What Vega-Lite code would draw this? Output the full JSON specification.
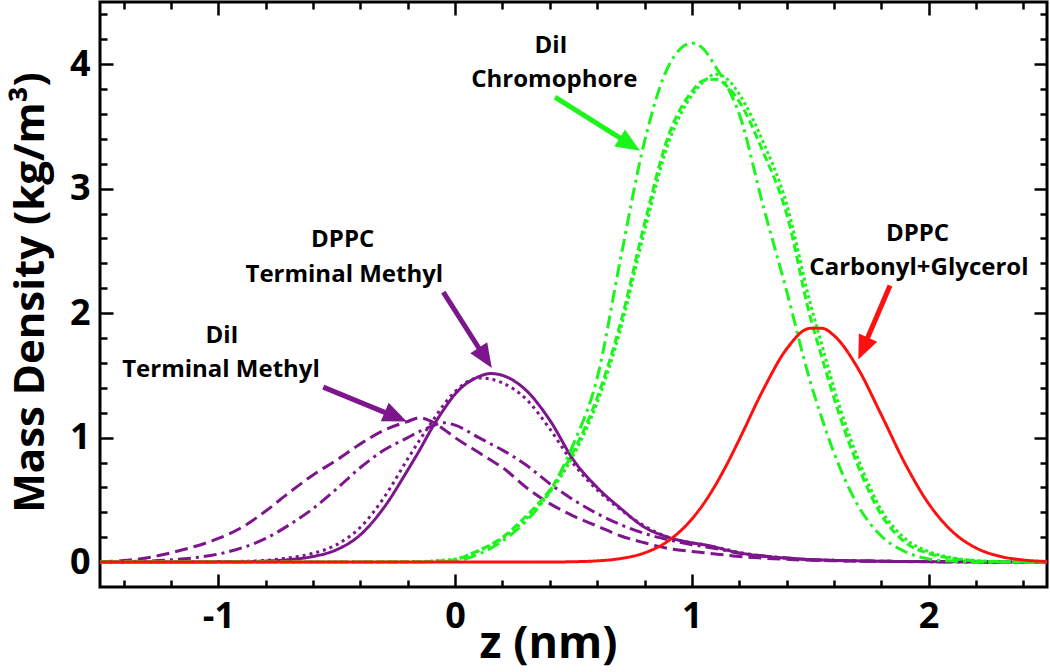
{
  "$schema": "https://vega.github.io/schema/vega-lite/v6.json",
  "width": 947,
  "height": 585,
  "autosize": {"type": "none"},
  "padding": {"left": 100, "top": 2, "right": 3, "bottom": 85},
  "background": "white",
  "config": {
    "view": {"stroke": "black", "strokeWidth": 3},
    "font": "Open Sans",
    "axis": {
      "domain": false,
      "grid": false,
      "tickColor": "black",
      "tickWidth": 2.5,
      "labelFont": "Open Sans",
      "labelFontWeight": "bold",
      "labelFontSize": 36,
      "labelColor": "black",
      "labelOverlap": false,
      "labelFlush": false,
      "labelBound": false,
      "titleFont": "Open Sans",
      "titleFontWeight": "bold",
      "titleColor": "black"
    }
  },
  "datasets": {
    "profiles": [
      {"z": -1.5, "dppc_cg": 0, "dii_chr_a": 0, "dii_chr_b": 0, "dii_chr_c": 0, "dppc_tm_a": 0, "dppc_tm_b": 0, "dii_tm_a": 0.002, "dii_tm_b": 0.004},
      {"z": -1.4, "dppc_cg": 0, "dii_chr_a": 0, "dii_chr_b": 0, "dii_chr_c": 0, "dppc_tm_a": 0, "dppc_tm_b": 0, "dii_tm_a": 0.004, "dii_tm_b": 0.012},
      {"z": -1.3, "dppc_cg": 0, "dii_chr_a": 0, "dii_chr_b": 0, "dii_chr_c": 0, "dppc_tm_a": 0, "dppc_tm_b": 0.001, "dii_tm_a": 0.008, "dii_tm_b": 0.035},
      {"z": -1.2, "dppc_cg": 0, "dii_chr_a": 0, "dii_chr_b": 0, "dii_chr_c": 0, "dppc_tm_a": 0.001, "dppc_tm_b": 0.001, "dii_tm_a": 0.018, "dii_tm_b": 0.075},
      {"z": -1.1, "dppc_cg": 0, "dii_chr_a": 0, "dii_chr_b": 0, "dii_chr_c": 0, "dppc_tm_a": 0.001, "dppc_tm_b": 0.002, "dii_tm_a": 0.035, "dii_tm_b": 0.125},
      {"z": -1.0, "dppc_cg": 0, "dii_chr_a": 0, "dii_chr_b": 0, "dii_chr_c": 0, "dppc_tm_a": 0.002, "dppc_tm_b": 0.003, "dii_tm_a": 0.065, "dii_tm_b": 0.19},
      {"z": -0.9, "dppc_cg": 0, "dii_chr_a": 0, "dii_chr_b": 0, "dii_chr_c": 0, "dppc_tm_a": 0.003, "dppc_tm_b": 0.006, "dii_tm_a": 0.115, "dii_tm_b": 0.28},
      {"z": -0.8, "dppc_cg": 0, "dii_chr_a": 0, "dii_chr_b": 0, "dii_chr_c": 0, "dppc_tm_a": 0.008, "dppc_tm_b": 0.014, "dii_tm_a": 0.19, "dii_tm_b": 0.41},
      {"z": -0.7, "dppc_cg": 0, "dii_chr_a": 0, "dii_chr_b": 0, "dii_chr_c": 0, "dppc_tm_a": 0.02, "dppc_tm_b": 0.035, "dii_tm_a": 0.3, "dii_tm_b": 0.56},
      {"z": -0.6, "dppc_cg": 0, "dii_chr_a": 0, "dii_chr_b": 0, "dii_chr_c": 0, "dppc_tm_a": 0.045, "dppc_tm_b": 0.07, "dii_tm_a": 0.43, "dii_tm_b": 0.7},
      {"z": -0.5, "dppc_cg": 0, "dii_chr_a": 0, "dii_chr_b": 0, "dii_chr_c": 0, "dppc_tm_a": 0.1, "dppc_tm_b": 0.14, "dii_tm_a": 0.59, "dii_tm_b": 0.82},
      {"z": -0.4, "dppc_cg": 0, "dii_chr_a": 0, "dii_chr_b": 0, "dii_chr_c": 0.001, "dppc_tm_a": 0.22, "dppc_tm_b": 0.28, "dii_tm_a": 0.76, "dii_tm_b": 0.95},
      {"z": -0.3, "dppc_cg": 0, "dii_chr_a": 0, "dii_chr_b": 0.001, "dii_chr_c": 0.002, "dppc_tm_a": 0.44, "dppc_tm_b": 0.52, "dii_tm_a": 0.9, "dii_tm_b": 1.06},
      {"z": -0.2, "dppc_cg": 0, "dii_chr_a": 0, "dii_chr_b": 0.002, "dii_chr_c": 0.003, "dppc_tm_a": 0.74, "dppc_tm_b": 0.83, "dii_tm_a": 1.0, "dii_tm_b": 1.13},
      {"z": -0.15, "dppc_cg": 0, "dii_chr_a": 0.001, "dii_chr_b": 0.003, "dii_chr_c": 0.005, "dppc_tm_a": 0.9, "dppc_tm_b": 0.98, "dii_tm_a": 1.05, "dii_tm_b": 1.16},
      {"z": -0.1, "dppc_cg": 0, "dii_chr_a": 0.002, "dii_chr_b": 0.005, "dii_chr_c": 0.008, "dppc_tm_a": 1.07, "dppc_tm_b": 1.12, "dii_tm_a": 1.09, "dii_tm_b": 1.13},
      {"z": -0.05, "dppc_cg": 0, "dii_chr_a": 0.004, "dii_chr_b": 0.012, "dii_chr_c": 0.015, "dppc_tm_a": 1.22, "dppc_tm_b": 1.26, "dii_tm_a": 1.12, "dii_tm_b": 1.07},
      {"z": 0, "dppc_cg": 0, "dii_chr_a": 0.008, "dii_chr_b": 0.02, "dii_chr_c": 0.025, "dppc_tm_a": 1.35, "dppc_tm_b": 1.37, "dii_tm_a": 1.1, "dii_tm_b": 1.0},
      {"z": 0.1, "dppc_cg": 0, "dii_chr_a": 0.065, "dii_chr_b": 0.095, "dii_chr_c": 0.09, "dppc_tm_a": 1.49, "dppc_tm_b": 1.48, "dii_tm_a": 1.0, "dii_tm_b": 0.88},
      {"z": 0.15, "dppc_cg": 0, "dii_chr_a": 0.11, "dii_chr_b": 0.14, "dii_chr_c": 0.135, "dppc_tm_a": 1.515, "dppc_tm_b": 1.47, "dii_tm_a": 0.95, "dii_tm_b": 0.82},
      {"z": 0.2, "dppc_cg": 0, "dii_chr_a": 0.17, "dii_chr_b": 0.2, "dii_chr_c": 0.19, "dppc_tm_a": 1.5, "dppc_tm_b": 1.44, "dii_tm_a": 0.9, "dii_tm_b": 0.76},
      {"z": 0.3, "dppc_cg": 0.0002, "dii_chr_a": 0.33, "dii_chr_b": 0.37, "dii_chr_c": 0.35, "dppc_tm_a": 1.38, "dppc_tm_b": 1.31, "dii_tm_a": 0.78, "dii_tm_b": 0.6},
      {"z": 0.4, "dppc_cg": 0.0008, "dii_chr_a": 0.57, "dii_chr_b": 0.58, "dii_chr_c": 0.56, "dppc_tm_a": 1.14, "dppc_tm_b": 1.07, "dii_tm_a": 0.63, "dii_tm_b": 0.47},
      {"z": 0.5, "dppc_cg": 0.003, "dii_chr_a": 0.95, "dii_chr_b": 0.89, "dii_chr_c": 0.86, "dppc_tm_a": 0.82, "dppc_tm_b": 0.79, "dii_tm_a": 0.5, "dii_tm_b": 0.37},
      {"z": 0.6, "dppc_cg": 0.01, "dii_chr_a": 1.48, "dii_chr_b": 1.32, "dii_chr_c": 1.28, "dppc_tm_a": 0.6, "dppc_tm_b": 0.58, "dii_tm_a": 0.39, "dii_tm_b": 0.29},
      {"z": 0.7, "dppc_cg": 0.029, "dii_chr_a": 2.45, "dii_chr_b": 1.93, "dii_chr_c": 1.88, "dppc_tm_a": 0.43, "dppc_tm_b": 0.42, "dii_tm_a": 0.3, "dii_tm_b": 0.21},
      {"z": 0.8, "dppc_cg": 0.074, "dii_chr_a": 3.38, "dii_chr_b": 2.72, "dii_chr_c": 2.66, "dppc_tm_a": 0.28, "dppc_tm_b": 0.29, "dii_tm_a": 0.23, "dii_tm_b": 0.155},
      {"z": 0.9, "dppc_cg": 0.17, "dii_chr_a": 3.98, "dii_chr_b": 3.42, "dii_chr_c": 3.36, "dppc_tm_a": 0.2, "dppc_tm_b": 0.2, "dii_tm_a": 0.18, "dii_tm_b": 0.11},
      {"z": 1.0, "dppc_cg": 0.346, "dii_chr_a": 4.17, "dii_chr_b": 3.78, "dii_chr_c": 3.75, "dppc_tm_a": 0.155, "dppc_tm_b": 0.155, "dii_tm_a": 0.14, "dii_tm_b": 0.085},
      {"z": 1.05, "dppc_cg": 0.47, "dii_chr_a": 4.12, "dii_chr_b": 3.87, "dii_chr_c": 3.86, "dppc_tm_a": 0.14, "dppc_tm_b": 0.14, "dii_tm_a": 0.125, "dii_tm_b": 0.075},
      {"z": 1.1, "dppc_cg": 0.62, "dii_chr_a": 3.98, "dii_chr_b": 3.88, "dii_chr_c": 3.92, "dppc_tm_a": 0.12, "dppc_tm_b": 0.12, "dii_tm_a": 0.11, "dii_tm_b": 0.065},
      {"z": 1.15, "dppc_cg": 0.793, "dii_chr_a": 3.82, "dii_chr_b": 3.82, "dii_chr_c": 3.88, "dppc_tm_a": 0.095, "dppc_tm_b": 0.1, "dii_tm_a": 0.09, "dii_tm_b": 0.055},
      {"z": 1.2, "dppc_cg": 0.984, "dii_chr_a": 3.6, "dii_chr_b": 3.7, "dii_chr_c": 3.76, "dppc_tm_a": 0.075, "dppc_tm_b": 0.078, "dii_tm_a": 0.07, "dii_tm_b": 0.045},
      {"z": 1.3, "dppc_cg": 1.38, "dii_chr_a": 2.87, "dii_chr_b": 3.3, "dii_chr_c": 3.38, "dppc_tm_a": 0.048, "dppc_tm_b": 0.05, "dii_tm_a": 0.05, "dii_tm_b": 0.032},
      {"z": 1.4, "dppc_cg": 1.712, "dii_chr_a": 2.18, "dii_chr_b": 2.8, "dii_chr_c": 2.88, "dppc_tm_a": 0.032, "dppc_tm_b": 0.033, "dii_tm_a": 0.033, "dii_tm_b": 0.022},
      {"z": 1.5, "dppc_cg": 1.878, "dii_chr_a": 1.45, "dii_chr_b": 1.97, "dii_chr_c": 2.08, "dppc_tm_a": 0.02, "dppc_tm_b": 0.021, "dii_tm_a": 0.02, "dii_tm_b": 0.015},
      {"z": 1.55, "dppc_cg": 1.878, "dii_chr_a": 1.15, "dii_chr_b": 1.64, "dii_chr_c": 1.74, "dppc_tm_a": 0.017, "dppc_tm_b": 0.017, "dii_tm_a": 0.017, "dii_tm_b": 0.013},
      {"z": 1.6, "dppc_cg": 1.821, "dii_chr_a": 0.88, "dii_chr_b": 1.32, "dii_chr_c": 1.4, "dppc_tm_a": 0.014, "dppc_tm_b": 0.014, "dii_tm_a": 0.014, "dii_tm_b": 0.011},
      {"z": 1.7, "dppc_cg": 1.561, "dii_chr_a": 0.46, "dii_chr_b": 0.78, "dii_chr_c": 0.84, "dppc_tm_a": 0.01, "dppc_tm_b": 0.01, "dii_tm_a": 0.01, "dii_tm_b": 0.008},
      {"z": 1.8, "dppc_cg": 1.184, "dii_chr_a": 0.21, "dii_chr_b": 0.38, "dii_chr_c": 0.42, "dppc_tm_a": 0.007, "dppc_tm_b": 0.007, "dii_tm_a": 0.007, "dii_tm_b": 0.006},
      {"z": 1.9, "dppc_cg": 0.793, "dii_chr_a": 0.085, "dii_chr_b": 0.16, "dii_chr_c": 0.19, "dppc_tm_a": 0.005, "dppc_tm_b": 0.005, "dii_tm_a": 0.005, "dii_tm_b": 0.004},
      {"z": 2.0, "dppc_cg": 0.47, "dii_chr_a": 0.025, "dii_chr_b": 0.07, "dii_chr_c": 0.085, "dppc_tm_a": 0.004, "dppc_tm_b": 0.004, "dii_tm_a": 0.004, "dii_tm_b": 0.003},
      {"z": 2.1, "dppc_cg": 0.246, "dii_chr_a": 0.008, "dii_chr_b": 0.03, "dii_chr_c": 0.035, "dppc_tm_a": 0.003, "dppc_tm_b": 0.003, "dii_tm_a": 0.003, "dii_tm_b": 0.002},
      {"z": 2.2, "dppc_cg": 0.114, "dii_chr_a": 0.002, "dii_chr_b": 0.01, "dii_chr_c": 0.012, "dppc_tm_a": 0.002, "dppc_tm_b": 0.002, "dii_tm_a": 0.002, "dii_tm_b": 0.002},
      {"z": 2.3, "dppc_cg": 0.047, "dii_chr_a": 0, "dii_chr_b": 0.003, "dii_chr_c": 0.004, "dppc_tm_a": 0.001, "dppc_tm_b": 0.001, "dii_tm_a": 0.001, "dii_tm_b": 0.001},
      {"z": 2.4, "dppc_cg": 0.017, "dii_chr_a": 0, "dii_chr_b": 0, "dii_chr_c": 0, "dppc_tm_a": 0.001, "dppc_tm_b": 0.001, "dii_tm_a": 0.001, "dii_tm_b": 0.001},
      {"z": 2.5, "dppc_cg": 0.005, "dii_chr_a": 0, "dii_chr_b": 0, "dii_chr_c": 0, "dppc_tm_a": 0, "dppc_tm_b": 0, "dii_tm_a": 0, "dii_tm_b": 0}
    ],
    "labels": [
      {"text": "DiI", "z": 0.405, "d": 4.15},
      {"text": "Chromophore", "z": 0.419, "d": 3.873},
      {"text": "DPPC", "z": -0.475, "d": 2.59},
      {"text": "Terminal Methyl", "z": -0.468, "d": 2.31},
      {"text": "DiI", "z": -0.985, "d": 1.82},
      {"text": "Terminal Methyl", "z": -0.989, "d": 1.54},
      {"text": "DPPC", "z": 1.953, "d": 2.635},
      {"text": "Carbonyl+Glycerol", "z": 1.959, "d": 2.359}
    ],
    "arrows": [
      {"arrow": "chromophore", "family": "green", "z": 0.422, "d": 3.735, "z2": 0.738, "d2": 3.358, "tz": 0.781, "td": 3.305},
      {"arrow": "dppc_tm", "family": "purple", "z": -0.05, "d": 2.169, "z2": 0.127, "d2": 1.64, "tz": 0.155, "td": 1.56},
      {"arrow": "dii_tm", "family": "purple", "z": -0.557, "d": 1.406, "z2": -0.251, "d2": 1.167, "tz": -0.204, "td": 1.13},
      {"arrow": "dppc_cg", "family": "red", "z": 1.837, "d": 2.222, "z2": 1.723, "d2": 1.716, "tz": 1.703, "td": 1.628}
    ]
  },
  "layer": [
    {
      "mark": {"type": "rule", "color": "black", "strokeWidth": 2},
      "encoding": {
        "x": {"datum": 0, "type": "quantitative", "axis": null, "scale": {"domain": [-1.5, 2.5], "nice": false, "zero": false}}
      }
    },
    {
      "data": {"name": "profiles"},
      "transform": [
        {"fold": ["dii_tm_b", "dii_tm_a", "dppc_tm_b", "dppc_tm_a", "dii_chr_c", "dii_chr_b", "dii_chr_a", "dppc_cg"], "as": ["series", "density"]}
      ],
      "mark": {"type": "line", "interpolate": "monotone", "strokeWidth": 3},
      "encoding": {
        "x": {
          "field": "z", "type": "quantitative",
          "scale": {"domain": [-1.5, 2.5], "nice": false, "zero": false},
          "axis": {
            "orient": "bottom",
            "values": [-1.4, -1.2, -1, -0.8, -0.6, -0.4, -0.2, 0, 0.2, 0.4, 0.6, 0.8, 1, 1.2, 1.4, 1.6, 1.8, 2, 2.2, 2.4],
            "labelExpr": "abs(datum.value - round(datum.value)) < 0.001 ? '' + round(datum.value) : ''",
            "tickSize": {"condition": {"test": "abs(datum.value - round(datum.value)) < 0.001", "value": -13}, "value": -7},
            "labelPadding": 25,
            "title": "z (nm)",
            "titleFontSize": 45,
            "titleX": 448,
            "titleY": 70,
            "titleBaseline": "alphabetic",
            "titleAlign": "center",
            "titleAnchor": null
          }
        },
        "y": {
          "field": "density", "type": "quantitative",
          "scale": {"domain": [-0.2, 4.5], "nice": false, "zero": false},
          "axis": {
            "orient": "left",
            "values": [0, 0.2, 0.4, 0.6, 0.8, 1, 1.2, 1.4, 1.6, 1.8, 2, 2.2, 2.4, 2.6, 2.8, 3, 3.2, 3.4, 3.6, 3.8, 4, 4.2, 4.4],
            "labelExpr": "abs(datum.value - round(datum.value)) < 0.001 ? '' + round(datum.value) : ''",
            "tickSize": {"condition": {"test": "abs(datum.value - round(datum.value)) < 0.001", "value": -13}, "value": -7},
            "labelPadding": 23,
            "title": "Mass Density (kg/m³)",
            "titleFontSize": 42,
            "titleAngle": 270,
            "titleX": -57,
            "titleY": 290,
            "titleBaseline": "alphabetic",
            "titleAlign": "center",
            "titleAnchor": null
          }
        },
        "color": {
          "field": "series", "type": "nominal", "legend": null,
          "scale": {
            "domain": ["dppc_cg", "dii_chr_a", "dii_chr_b", "dii_chr_c", "dppc_tm_a", "dppc_tm_b", "dii_tm_a", "dii_tm_b"],
            "range": ["#ff1010", "#1cf51c", "#1cf51c", "#1cf51c", "#7d168c", "#7d168c", "#7d168c", "#7d168c"]
          }
        },
        "strokeDash": {
          "field": "series", "type": "nominal", "legend": null,
          "scale": {
            "domain": ["dppc_cg", "dii_chr_a", "dii_chr_b", "dii_chr_c", "dppc_tm_a", "dppc_tm_b", "dii_tm_a", "dii_tm_b"],
            "range": [[1, 0], [13, 5, 3, 5], [8, 4], [3, 3], [1, 0], [3, 4], [13, 5, 3, 5], [13, 6]]
          }
        }
      }
    },
    {
      "data": {"name": "arrows"},
      "mark": {"type": "rule", "strokeWidth": 5, "strokeCap": "butt"},
      "encoding": {
        "x": {"field": "z", "type": "quantitative", "axis": null},
        "y": {"field": "d", "type": "quantitative", "axis": null},
        "x2": {"field": "z2"},
        "y2": {"field": "d2"},
        "color": {
          "condition": [
            {"test": "datum.family === 'green'", "value": "#1cf51c"},
            {"test": "datum.family === 'red'", "value": "#ff1010"}
          ],
          "value": "#7d168c"
        }
      }
    },
    {
      "data": {"name": "arrows"},
      "mark": {"type": "point", "shape": "M0,0L-0.42,1L0.42,1Z", "filled": true, "opacity": 1, "size": 2304, "strokeWidth": 0},
      "encoding": {
        "x": {"field": "tz", "type": "quantitative", "axis": null},
        "y": {"field": "td", "type": "quantitative", "axis": null},
        "angle": {
          "condition": [
            {"test": "datum.arrow === 'chromophore'", "value": 122},
            {"test": "datum.arrow === 'dppc_tm'", "value": 147},
            {"test": "datum.arrow === 'dii_tm'", "value": 113}
          ],
          "value": 204
        },
        "color": {
          "condition": [
            {"test": "datum.family === 'green'", "value": "#1cf51c"},
            {"test": "datum.family === 'red'", "value": "#ff1010"}
          ],
          "value": "#7d168c"
        }
      }
    },
    {
      "data": {"name": "labels"},
      "mark": {"type": "text", "font": "Open Sans", "fontWeight": "bold", "fontSize": 24, "color": "black", "align": "center", "baseline": "middle"},
      "encoding": {
        "text": {"field": "text"},
        "x": {
          "field": "z", "type": "quantitative",
          "axis": {
            "orient": "top",
            "values": [-1.4, -1.2, -1, -0.8, -0.6, -0.4, -0.2, 0, 0.2, 0.4, 0.6, 0.8, 1, 1.2, 1.4, 1.6, 1.8, 2, 2.2, 2.4],
            "labels": false,
            "title": null,
            "tickSize": {"condition": {"test": "abs(datum.value - round(datum.value)) < 0.001", "value": -13}, "value": -7}
          }
        },
        "y": {
          "field": "d", "type": "quantitative",
          "axis": {
            "orient": "right",
            "values": [0, 0.2, 0.4, 0.6, 0.8, 1, 1.2, 1.4, 1.6, 1.8, 2, 2.2, 2.4, 2.6, 2.8, 3, 3.2, 3.4, 3.6, 3.8, 4, 4.2, 4.4],
            "labels": false,
            "title": null,
            "tickSize": {"condition": {"test": "abs(datum.value - round(datum.value)) < 0.001", "value": -13}, "value": -7}
          }
        }
      }
    }
  ],
  "resolve": {"axis": {"x": "independent", "y": "independent"}}
}
